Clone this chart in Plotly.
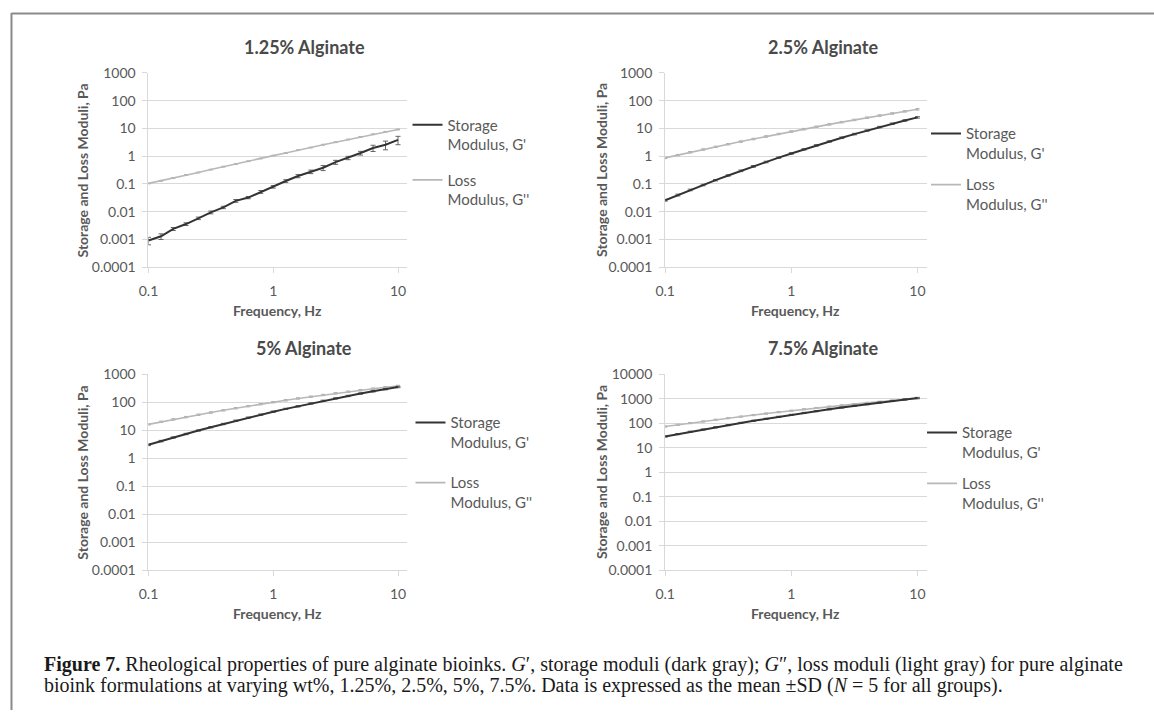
import plotly.graph_objects as go

W, H = 1154, 718

# ---------------- data ----------------
freq = [0.1, 0.126, 0.158, 0.2, 0.251, 0.316, 0.398, 0.501, 0.631, 0.794, 1.0,
        1.26, 1.58, 2.0, 2.51, 3.16, 3.98, 5.01, 6.31, 7.94, 10.0]

titles = ["1.25% Alginate", "2.5% Alginate", "5% Alginate", "7.5% Alginate"]

g1_storage = [0.00092, 0.0013, 0.0024, 0.0036, 0.0058, 0.0095, 0.0143, 0.0247, 0.0324, 0.052, 0.079,
              0.128, 0.193, 0.276, 0.383, 0.61, 0.87, 1.3, 1.98, 2.6, 3.9]
g1_storage_sd = [0.00028, 0.0003, 0.0003, 0.0004, 0.0006, 0.0011, 0.0014, 0.0028, 0.003, 0.006, 0.008,
                 0.014, 0.025, 0.04, 0.08, 0.1, 0.12, 0.2, 0.5, 0.9, 1.3]
g1_loss = [0.105, 0.13, 0.165, 0.21, 0.26, 0.33, 0.42, 0.52, 0.66, 0.83, 1.05,
           1.3, 1.65, 2.05, 2.6, 3.2, 4.0, 5.0, 6.2, 7.6, 9.2]
g1_loss_sd = [0.004, 0.005, 0.006, 0.007, 0.008, 0.01, 0.013, 0.016, 0.02, 0.025, 0.03,
              0.04, 0.05, 0.06, 0.08, 0.1, 0.12, 0.15, 0.18, 0.22, 0.27]

g2_storage = [0.026, 0.040, 0.061, 0.092, 0.137, 0.203, 0.298, 0.432, 0.62, 0.89, 1.26,
              1.77, 2.46, 3.39, 4.63, 6.27, 8.43, 11.2, 14.8, 19.4, 25.1]
g2_storage_sd = [0.002, 0.003, 0.004, 0.006, 0.008, 0.012, 0.02, 0.03, 0.04, 0.05, 0.08,
                 0.1, 0.15, 0.2, 0.3, 0.4, 0.5, 0.7, 0.9, 1.2, 1.5]
g2_loss = [0.87, 1.10, 1.39, 1.74, 2.18, 2.71, 3.37, 4.17, 5.15, 6.34, 7.76,
           9.48, 11.5, 14.0, 16.9, 20.3, 24.4, 29.2, 34.8, 41.4, 49.0]
g2_loss_sd = [0.05, 0.06, 0.08, 0.1, 0.12, 0.15, 0.2, 0.25, 0.3, 0.35, 0.45,
              0.55, 0.65, 0.8, 1.0, 1.2, 1.4, 1.7, 2.0, 2.4, 2.9]

g3_storage = [3.02, 4.09, 5.50, 7.34, 9.73, 12.8, 16.7, 21.8, 28.1, 35.9, 45.7,
              57.7, 71.4, 90.3, 112, 137, 167, 203, 244, 292, 347]
g3_storage_sd = [0.2, 0.25, 0.3, 0.4, 0.5, 0.7, 0.9, 1.2, 1.5, 2, 2.5,
                 3, 4, 5, 6, 7, 9, 11, 13, 16, 19]
g3_loss = [16.2, 19.9, 24.3, 29.4, 35.6, 42.8, 51.2, 61.0, 72.3, 85.2, 100,
           117, 136, 157, 181, 207, 236, 268, 303, 340, 380]
g3_loss_sd = [0.9, 1.1, 1.3, 1.6, 2, 2.4, 2.8, 3.4, 4, 4.7, 5.5,
              6.5, 7.5, 8.6, 10, 11, 13, 15, 17, 19, 21]

g4_storage = [28.8, 36.0, 44.8, 55.4, 68.4, 83.9, 103, 125, 151, 182, 219,
              262, 311, 369, 435, 511, 598, 697, 808, 932, 1072]
g4_storage_sd = [1.6, 2, 2.5, 3, 3.8, 4.6, 5.7, 7, 8.3, 10, 12,
                 14, 17, 20, 24, 28, 33, 38, 44, 51, 59]
g4_loss = [73.3, 86.3, 101, 118, 138, 161, 186, 215, 247, 283, 324,
           369, 418, 473, 534, 600, 672, 750, 835, 926, 1023]
g4_loss_sd = [4, 4.7, 5.5, 6.5, 7.6, 8.8, 10, 12, 14, 16, 18,
              20, 23, 26, 29, 33, 37, 41, 46, 51, 56]

x_ticks = [0.1, 1, 10]
x_ticktext = ["0.1", "1", "10"]
y_ticks_a = [0.0001, 0.001, 0.01, 0.1, 1, 10, 100, 1000]
y_ticktext_a = ["0.0001", "0.001", "0.01", "0.1", "1", "10", "100", "1000"]
y_ticks_b = [0.0001, 0.001, 0.01, 0.1, 1, 10, 100, 1000, 10000]
y_ticktext_b = ["0.0001", "0.001", "0.01", "0.1", "1", "10", "100", "1000", "10000"]

storage_name = "Storage<br>Modulus, G'"
loss_name = "Loss<br>Modulus, G''"
x_title = "Frequency, Hz"
y_title = "Storage and Loss Moduli, Pa"

series = [
    (g1_storage, g1_storage_sd, g1_loss, g1_loss_sd),
    (g2_storage, g2_storage_sd, g2_loss, g2_loss_sd),
    (g3_storage, g3_storage_sd, g3_loss, g3_loss_sd),
    (g4_storage, g4_storage_sd, g4_loss, g4_loss_sd),
]

# ---------------- layout helpers ----------------
def X(px):
    return px / W

def Y(py):
    return 1 - py / H

DARK = "#333333"
LIGHT = "#b8b8b8"
GRID = "#d9d9d9"
TXT = "#595959"
FONT = "Lato"

# panel geometry in pixels
panels = [
    dict(x0=139.7, x10=391.4, x1=400.8, yt=65.5, yb=264.5, yr=[-4, 3], yt_v=y_ticks_a, yt_t=y_ticktext_a,
         leg=(401, 102, 13), tpos=(297, 38.5), ytx=73, xty=309),
    dict(x0=660.9, x10=915.4, x1=924.7, yt=65.5, yb=264.5, yr=[-4, 3], yt_v=y_ticks_a, yt_t=y_ticktext_a,
         leg=(924, 111, 9), tpos=(820, 38.5), ytx=596, xty=309),
    dict(x0=139.7, x10=391.4, x1=400.8, yt=374, yb=575, yr=[-4, 3], yt_v=y_ticks_a, yt_t=y_ticktext_a,
         leg=(404, 407, 18), tpos=(297, 347.5), ytx=73, xty=619),
    dict(x0=660.9, x10=915.4, x1=924.7, yt=374, yb=575, yr=[-4, 4], yt_v=y_ticks_b, yt_t=y_ticktext_b,
         leg=(920, 417, 9), tpos=(820, 347.5), ytx=596, xty=619),
]

fig = go.Figure()
layout = dict(
    width=W, height=H, autosize=False,
    margin=dict(l=0, r=0, t=0, b=0),
    paper_bgcolor="white", plot_bgcolor="white",
    font=dict(family=FONT, color=TXT),
    annotations=[], shapes=[],
)

for i, (p, (gs, gs_sd, gl, gl_sd), title) in enumerate(zip(panels, series, titles)):
    n = i + 1
    xa = "x" if n == 1 else f"x{n}"
    ya = "y" if n == 1 else f"y{n}"
    leg = "legend" if n == 1 else f"legend{n}"
    xkey = "xaxis" if n == 1 else f"xaxis{n}"
    ykey = "yaxis" if n == 1 else f"yaxis{n}"

    fig.add_trace(go.Scatter(
        x=freq, y=gl, mode="lines", xaxis=xa, yaxis=ya, showlegend=False,
        line=dict(color=LIGHT, width=1.6),
        error_y=dict(type="data", array=gl_sd, visible=True, color="#a8a8a8", thickness=1, width=2),
    ))
    fig.add_trace(go.Scatter(
        x=freq, y=gs, mode="lines", xaxis=xa, yaxis=ya, showlegend=False,
        line=dict(color=DARK, width=2),
        error_y=dict(type="data", array=gs_sd, visible=True, color="#666666", thickness=1, width=2.5),
    ))
    fig.add_trace(go.Scatter(
        x=[None], y=[None], mode="lines", xaxis=xa, yaxis=ya, name=storage_name,
        legend=leg, legendgroup=f"s{n}", line=dict(color=DARK, width=2),
    ))
    fig.add_trace(go.Scatter(
        x=[None], y=[None], mode="lines", xaxis=xa, yaxis=ya, name=loss_name,
        legend=leg, legendgroup=f"l{n}", line=dict(color=LIGHT, width=1.6),
    ))

    px_per_dec = (p["x10"] - p["x0"]) / 2
    xend = 1 + (p["x1"] - p["x10"]) / px_per_dec
    layout[xkey] = dict(
        type="log", domain=[X(p["x0"]), X(p["x1"])], range=[-1, xend], anchor=ya,
        tickvals=x_ticks, ticktext=x_ticktext, showgrid=False, zeroline=False,
        showline=True, linecolor=GRID, linewidth=1, ticks="outside", ticklen=5,
        tickcolor=GRID, tickfont=dict(family=FONT, size=14, color=TXT), ticklabelstandoff=6,
    )
    layout[ykey] = dict(
        type="log", domain=[Y(p["yb"]), Y(p["yt"])], range=p["yr"], anchor=xa,
        tickvals=p["yt_v"], ticktext=p["yt_t"], showgrid=True, gridcolor=GRID, gridwidth=1,
        zeroline=False, showline=True, linecolor=GRID, linewidth=1, ticks="outside",
        ticklen=5, tickcolor=GRID, tickfont=dict(family=FONT, size=14, color=TXT),
        ticklabelstandoff=4,
    )
    lx, ly, gap = p["leg"]
    layout[leg] = dict(
        x=X(lx), y=Y(ly), xanchor="left", yanchor="top", xref="paper", yref="paper",
        bgcolor="rgba(0,0,0,0)", borderwidth=0, valign="top", tracegroupgap=gap,
        font=dict(family=FONT, size=15, color=TXT), orientation="v",
    )
    tx, ty = p["tpos"]
    layout["annotations"].append(dict(
        text=f"<b>{title}</b>", x=X(tx), y=Y(ty), xref="paper", yref="paper",
        xanchor="center", yanchor="middle", showarrow=False,
        font=dict(family=FONT, size=18, color="#4a4a4a"),
    ))
    layout["annotations"].append(dict(
        text=f"<b>{x_title}</b>", x=X((p["x0"] + p["x1"]) / 2), y=Y(p["xty"]),
        xref="paper", yref="paper", xanchor="center", yanchor="middle", showarrow=False,
        font=dict(family=FONT, size=14, color=TXT),
    ))
    layout["annotations"].append(dict(
        text=f"<b>{y_title}</b>", x=X(p["ytx"]), y=Y((p["yt"] + p["yb"]) / 2),
        xref="paper", yref="paper", xanchor="center", yanchor="middle", showarrow=False,
        textangle=-90, font=dict(family=FONT, size=14, color=TXT),
    ))

# caption
caption1 = ("<b>Figure 7.</b> Rheological properties of pure alginate bioinks. <i>G</i>′, storage moduli "
            "(dark gray); <i>G</i>″, loss moduli (light gray) for pure alginate")
caption2 = ("bioink formulations at varying wt%, 1.25%, 2.5%, 5%, 7.5%. Data is expressed as the mean "
            "±SD (<i>N</i> = 5 for all groups).")
for txt, cy in [(caption1, 671), (caption2, 693)]:
    layout["annotations"].append(dict(
        text=txt, x=X(32), y=Y(cy), xref="paper", yref="paper", xanchor="left", yanchor="middle",
        showarrow=False, font=dict(family="Liberation Serif", size=20, color="#1a1a1a"),
    ))

# figure frame
layout["shapes"].append(dict(type="line", xref="paper", yref="paper", x0=X(1.5), x1=1, y0=Y(4.5), y1=Y(4.5),
                             line=dict(color="#8a8a8a", width=2)))
layout["shapes"].append(dict(type="line", xref="paper", yref="paper", x0=X(1.5), x1=X(1.5), y0=Y(4), y1=0,
                             line=dict(color="#8a8a8a", width=2)))

fig.update_layout(**layout)
fig.write_html("out.html")
